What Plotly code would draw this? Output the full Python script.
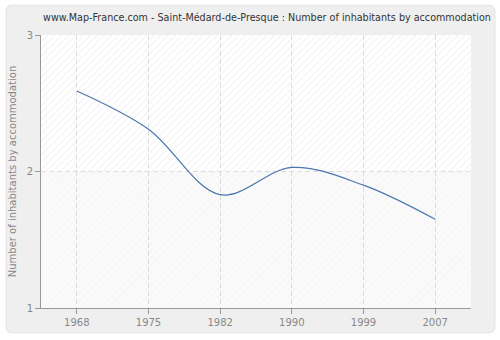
import plotly.graph_objects as go

years = ["1968", "1975", "1982", "1990", "1999", "2007"]
values = [2.59, 2.31, 1.83, 2.03, 1.90, 1.65]
y_ticks = [1, 2, 3]
title_text = "www.Map-France.com - Saint-Médard-de-Presque : Number of inhabitants by accommodation"
y_title = "Number of inhabitants by accommodation"

W, H = 500, 340
L, R, T, B = 40, 29, 35, 30

xpos = list(range(len(years)))
xr = [-0.5, len(years) - 0.5]
yr = [min(y_ticks), max(y_ticks)]
ymid = y_ticks[1]

fig = go.Figure()

# hatched plot background (upper and lower halves), semi-transparent so grid shows through
fig.add_trace(go.Scatter(x=[xr[0], xr[1], xr[1], xr[0], xr[0]], y=[ymid, ymid, yr[1], yr[1], ymid],
                         mode="lines", line=dict(width=0), fill="toself", fillcolor="rgba(0,0,0,0)",
                         fillpattern=dict(shape="/", fgcolor="rgba(0,0,0,0.09)", bgcolor="rgba(0,0,0,0)",
                                          size=5, solidity=0.25),
                         hoverinfo="skip", showlegend=False))
fig.add_trace(go.Scatter(x=[xr[0], xr[1], xr[1], xr[0], xr[0]], y=[yr[0], yr[0], ymid, ymid, yr[0]],
                         mode="lines", line=dict(width=0), fill="toself", fillcolor="rgba(0,0,0,0.02)",
                         fillpattern=dict(shape="/", fgcolor="rgba(0,0,0,0.035)", bgcolor="rgba(0,0,0,0.02)",
                                          size=5, solidity=0.25),
                         hoverinfo="skip", showlegend=False))

fig.add_trace(go.Scatter(x=xpos, y=values, mode="lines",
                         line=dict(color="#4a76ae", width=1.2, shape="spline", smoothing=1.0),
                         showlegend=False))

PW, PH = W - L - R, H - T - B

def px(x):
    return (x - L) / PW

def py(y):
    return 1 - (y - T) / PH

r = 6
x0, x1, y0, y1 = 5, 495, 5, 335
panel = (f"M {px(x0+r)},{py(y0)} L {px(x1-r)},{py(y0)} Q {px(x1)},{py(y0)} {px(x1)},{py(y0+r)} "
         f"L {px(x1)},{py(y1-r)} Q {px(x1)},{py(y1)} {px(x1-r)},{py(y1)} "
         f"L {px(x0+r)},{py(y1)} Q {px(x0)},{py(y1)} {px(x0)},{py(y1-r)} "
         f"L {px(x0)},{py(y0+r)} Q {px(x0)},{py(y0)} {px(x0+r)},{py(y0)} Z")

fig.update_layout(
    width=W, height=H,
    margin=dict(l=L, r=R, t=T, b=B),
    paper_bgcolor="white",
    plot_bgcolor="white",
    font=dict(family="DejaVu Sans", size=10, color="#888888"),
    title=dict(text=title_text, x=267 / W, xanchor="center", y=1 - 18 / H, yanchor="middle",
               font=dict(family="DejaVu Sans", size=9.6, color="#333333")),
    shapes=[
        dict(type="path", path=panel, xref="paper", yref="paper", layer="below",
             fillcolor="#efefef", line=dict(color="#e2e2e2", width=1)),
        dict(type="rect", x0=0, x1=1, y0=0, y1=1, xref="paper", yref="paper", layer="below",
             fillcolor="white", line=dict(width=0)),
    ],
    xaxis=dict(range=xr, tickvals=xpos, ticktext=years, showgrid=True, gridcolor="#e0e0e0",
               griddash="5px,3px", gridwidth=1, showline=True, linecolor="#999999", linewidth=1,
               ticks="outside", ticklen=5, tickcolor="#999999", tickfont=dict(size=10, color="#888888"),
               zeroline=False, fixedrange=True),
    yaxis=dict(range=yr, tickvals=y_ticks, showgrid=True, gridcolor="#e0e0e0", griddash="5px,3px",
               showline=True, linecolor="#999999", linewidth=1, ticks="outside", ticklen=5,
               tickcolor="#999999", tickfont=dict(size=10, color="#888888"), zeroline=False,
               fixedrange=True,
               title=dict(text=y_title, font=dict(size=10, color="#888888"), standoff=8)),
)

fig.write_html("out.html")
